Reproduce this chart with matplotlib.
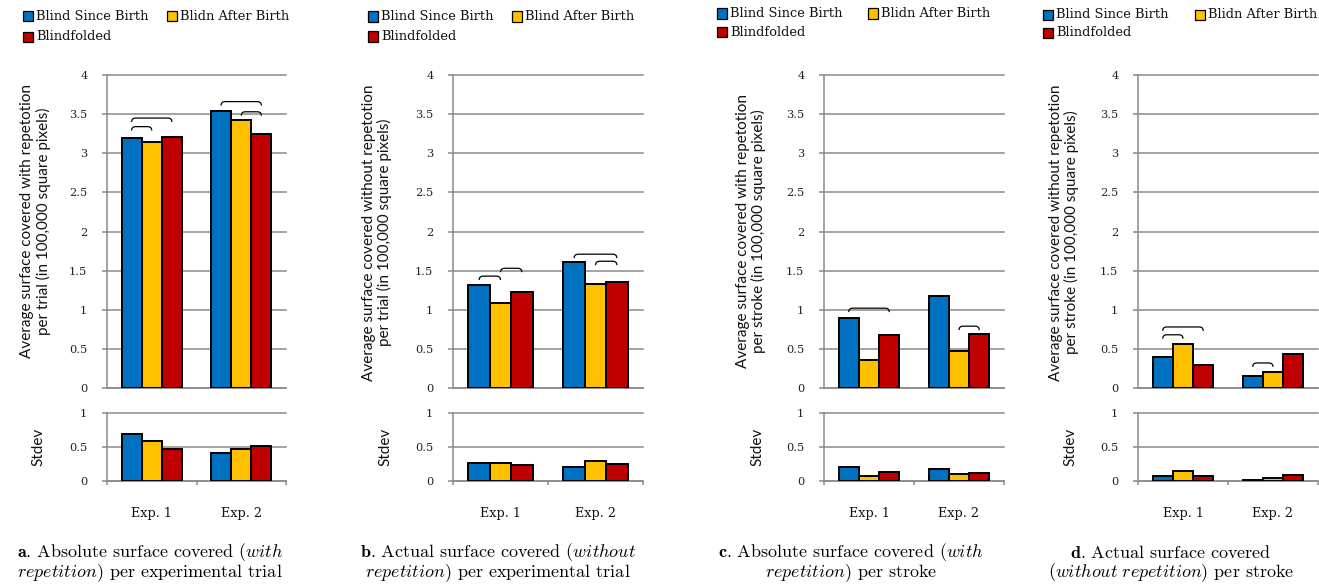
import numpy as np
import matplotlib.pyplot as plt
from matplotlib.path import Path
from matplotlib.patches import PathPatch, Rectangle
from matplotlib.ticker import FuncFormatter

plt.rcParams['font.family'] = 'DejaVu Serif'
plt.rcParams['mathtext.fontset'] = 'cm'

# Groups and series
groups = ['Exp. 1', 'Exp. 2']
series = ['Blind Since Birth', 'Blidn After Birth', 'Blindfolded']
series_b = ['Blind Since Birth', 'Blind After Birth', 'Blindfolded']
colors = ['#0070C0', '#FFC000', '#C00000']

# Means per series (rows) and experiment (columns), in 100,000 square pixels
abs_trial = [[3.19, 3.54], [3.14, 3.43], [3.21, 3.25]]
act_trial = [[1.32, 1.61], [1.09, 1.33], [1.23, 1.36]]
abs_stroke = [[0.89, 1.17], [0.36, 0.47], [0.675, 0.69]]
act_stroke = [[0.40, 0.15], [0.56, 0.21], [0.30, 0.43]]

# Standard deviations
abs_trial_sd = [[0.69, 0.41], [0.59, 0.47], [0.47, 0.51]]
act_trial_sd = [[0.26, 0.20], [0.27, 0.30], [0.23, 0.245]]
abs_stroke_sd = [[0.21, 0.175], [0.08, 0.11], [0.135, 0.125]]
act_stroke_sd = [[0.08, 0.02], [0.145, 0.05], [0.07, 0.085]]

# Significance brackets: (group, first bar, second bar, height)
brackets_a = [(0, 0, 1, 3.34), (0, 0, 2, 3.45), (1, 0, 2, 3.66), (1, 1, 2, 3.53)]
brackets_b = [(0, 0, 1, 1.43), (0, 1, 2, 1.53), (1, 0, 2, 1.71), (1, 1, 2, 1.62)]
brackets_c = [(0, 0, 2, 1.02), (1, 1, 2, 0.79)]
brackets_d = [(0, 0, 1, 0.68), (0, 0, 2, 0.78), (1, 0, 1, 0.32)]

ylabels = [
    'Average surface covered with repetotion\nper trial (in 100,000 square pixels)',
    'Average surface covered without repetotion\nper trial (in 100,000 square pixels)',
    'Average surface covered with repetotion\nper stroke (in 100,000 square pixels)',
    'Average surface covered without repetotion\nper stroke (in 100,000 square pixels)',
]
captions = [
    (r'$\mathbf{a.}\,$Absolute surface covered ($\mathit{with}$',
     r'$\mathit{repetition}$) per experimental trial'),
    (r'$\mathbf{b.}\,$Actual surface covered ($\mathit{without}$',
     r'$\mathit{repetition}$) per experimental trial'),
    (r'$\mathbf{c.}\,$Absolute surface covered ($\mathit{with}$',
     r'$\mathit{repetition}$) per stroke'),
    (r'$\mathbf{d.}\,$Actual surface covered',
     r'($\mathit{without\ repetition}$) per stroke'),
]

W, H = 1319, 585
fig = plt.figure(figsize=(W / 100, H / 100), dpi=100)


def fx(px):
    return px / W


def fy(py):
    return 1 - py / H


grid_col = '#8a8a8a'
bar_w = 0.225
offsets = [-bar_w, 0, bar_w]
x = np.arange(len(groups))
fmt = FuncFormatter(lambda v, p: '%g' % v)


def style_axis(ax, ymax, step):
    ax.set_xlim(-0.5, 1.5)
    ax.set_ylim(0, ymax)
    ax.set_yticks(np.arange(0, ymax + 0.01, step))
    ax.yaxis.set_major_formatter(fmt)
    ax.grid(axis='y', color=grid_col, lw=1.1, zorder=0)
    for gl in ax.get_ygridlines():
        gl.set_clip_on(False)
    ax.spines[['top', 'right']].set_visible(False)
    for s in ['left', 'bottom']:
        ax.spines[s].set_color(grid_col)
        ax.spines[s].set_linewidth(1.1)
    ax.tick_params(axis='y', length=3.6, width=1.1, color=grid_col, pad=10.5,
                   labelsize=8.2, labelcolor='#222222')


def bracket(ax, x1, x2, y, dx=0.045, dy=0.05):
    verts = [(x1, y - dy), (x1, y), (x1 + dx, y), (x2 - dx, y), (x2, y), (x2, y - dy)]
    codes = [Path.MOVETO, Path.CURVE3, Path.CURVE3, Path.LINETO, Path.CURVE3, Path.CURVE3]
    ax.add_patch(PathPatch(Path(verts, codes), fc='none', ec='black', lw=0.9, zorder=4))


def legend(names, x0, y1, y2, dx):
    spots = [(x0, y1), (x0 + dx, y1), (x0, y2)]
    for (lx, ly), name, col in zip(spots, names, colors):
        fig.add_artist(Rectangle((fx(lx), fy(ly + 5)), 10 / W, 10 / H, transform=fig.transFigure,
                                 fc=col, ec='black', lw=0.9))
        fig.text(fx(lx + 13), fy(ly), name, ha='left', va='center', fontsize=9.4, color='#111111')


panels = [
    dict(left=107, width=179, means=abs_trial, sds=abs_trial_sd, brackets=brackets_a,
         ylab=(35.5, 221.5), sdlab=(38, 447), cap=150, names=series, leg=(23, 16, 37, 144)),
    dict(left=453, width=190, means=act_trial, sds=act_trial_sd, brackets=brackets_b,
         ylab=(377, 232.5), sdlab=(385, 447), cap=498, names=series_b, leg=(368, 16.5, 36.5, 144)),
    dict(left=824, width=180, means=abs_stroke, sds=abs_stroke_sd, brackets=brackets_c,
         ylab=(751, 231.5), sdlab=(757, 447), cap=851, names=series, leg=(717, 13.5, 32, 151)),
    dict(left=1138, width=180, means=act_stroke, sds=act_stroke_sd, brackets=brackets_d,
         ylab=(1064, 232.5), sdlab=(1070, 447), cap=1171, names=series, leg=(1043, 15, 33, 152)),
]

for p, ylabel, caption in zip(panels, ylabels, captions):
    ax = fig.add_axes([fx(p['left']), fy(388), p['width'] / W, 313 / H])
    ax_sd = fig.add_axes([fx(p['left']), fy(481), p['width'] / W, 68 / H])

    for i in range(len(series)):
        ax.bar(x + offsets[i], p['means'][i], bar_w, color=colors[i],
               edgecolor='black', linewidth=1.4, zorder=3)
        ax_sd.bar(x + offsets[i], p['sds'][i], bar_w, color=colors[i],
                  edgecolor='black', linewidth=1.4, zorder=3)

    style_axis(ax, 4, 0.5)
    ax.set_xticks([])
    style_axis(ax_sd, 1, 0.5)
    ax_sd.set_xticks(x)
    ax_sd.set_xticklabels(groups)
    ax_sd.set_xticks([-0.5, 0.5, 1.5], minor=True)
    ax_sd.tick_params(axis='x', which='major', length=0, pad=19, labelsize=9.2, labelcolor='#111111')
    ax_sd.tick_params(axis='x', which='minor', length=3.2, width=1.1, color=grid_col)

    for g, i, j, h in p['brackets']:
        bracket(ax, x[g] + offsets[i], x[g] + offsets[j], h)

    fig.text(fx(p['ylab'][0]), fy(p['ylab'][1]), ylabel, rotation=90, ha='center', va='center',
             family='Lato', fontsize=11, linespacing=1.15, color='#111111')
    fig.text(fx(p['sdlab'][0]), fy(p['sdlab'][1]), 'Stdev', rotation=90, ha='center', va='center',
             family='Lato', fontsize=11, color='#111111')
    # two caption lines placed separately to keep even spacing with mathtext
    for line, cy in zip(caption, (552, 573)):
        fig.text(fx(p['cap']), fy(cy), line, ha='center', va='center', family='cmr10',
                 fontsize=13)
    legend(p['names'], *p['leg'])

fig.savefig('out.png', dpi=100)
